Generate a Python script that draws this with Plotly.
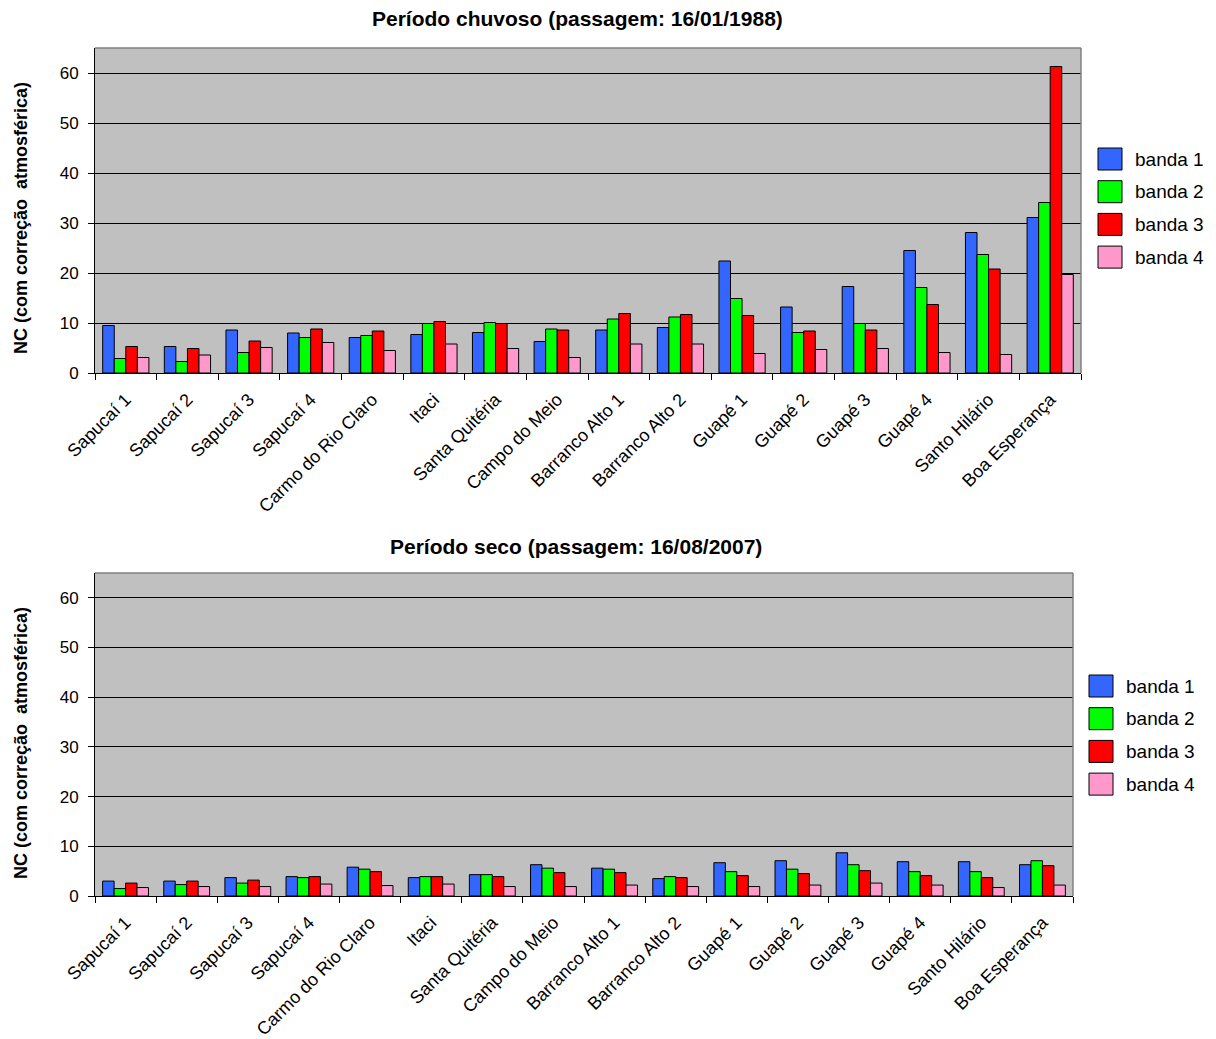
import plotly.graph_objects as go

# Sampling sites (x categories)
sites = ["Sapucaí 1", "Sapucaí 2", "Sapucaí 3", "Sapucaí 4", "Carmo do Rio Claro",
         "Itaci", "Santa Quitéria", "Campo do Meio", "Barranco Alto 1", "Barranco Alto 2",
         "Guapé 1", "Guapé 2", "Guapé 3", "Guapé 4", "Santo Hilário", "Boa Esperança"]

band_names = ["banda 1", "banda 2", "banda 3", "banda 4"]
band_colors = ["#3366FF", "#00FF00", "#FF0000", "#FF99CC"]

# Rainy season (16/01/1988)
wet_b1 = [9.5, 5.3, 8.6, 8.0, 7.1, 7.7, 8.1, 6.3, 8.6, 9.1, 22.4, 13.2, 17.3, 24.5, 28.1, 31.1]
wet_b2 = [2.9, 2.3, 4.1, 7.1, 7.5, 9.9, 10.1, 8.8, 10.8, 11.2, 14.9, 8.1, 9.9, 17.1, 23.7, 34.1]
wet_b3 = [5.3, 4.9, 6.4, 8.8, 8.4, 10.3, 9.9, 8.6, 11.9, 11.7, 11.5, 8.4, 8.6, 13.7, 20.8, 61.3]
wet_b4 = [3.1, 3.6, 5.1, 6.1, 4.5, 5.8, 4.9, 3.1, 5.8, 5.8, 3.9, 4.7, 4.9, 4.1, 3.7, 19.7]

# Dry season (16/08/2007)
dry_b1 = [3.0, 3.0, 3.7, 3.9, 5.8, 3.7, 4.3, 6.3, 5.6, 3.5, 6.7, 7.1, 8.7, 6.9, 6.9, 6.3]
dry_b2 = [1.5, 2.3, 2.6, 3.7, 5.4, 3.9, 4.3, 5.6, 5.4, 3.9, 4.9, 5.4, 6.3, 4.9, 4.9, 7.1]
dry_b3 = [2.6, 3.0, 3.2, 3.9, 4.9, 3.9, 3.9, 4.7, 4.7, 3.7, 4.1, 4.5, 5.1, 4.1, 3.7, 6.1]
dry_b4 = [1.7, 1.9, 1.9, 2.4, 2.1, 2.4, 1.9, 1.9, 2.2, 1.9, 1.9, 2.2, 2.6, 2.2, 1.7, 2.2]

y_ticks = [0, 10, 20, 30, 40, 50, 60]

W, H = 1216, 1039
FONT = "Liberation Sans, Arial, sans-serif"


def px_x(p):
    return p / W


def px_y(p):
    return 1 - p / H


fig = go.Figure()

panels = [
    ("x", "y", [wet_b1, wet_b2, wet_b3, wet_b4]),
    ("x2", "y2", [dry_b1, dry_b2, dry_b3, dry_b4]),
]
for xa, ya, series in panels:
    for name, color, vals in zip(band_names, band_colors, series):
        fig.add_trace(go.Bar(
            x=sites, y=vals, name=name, xaxis=xa, yaxis=ya,
            marker=dict(color=color, line=dict(color="black", width=1)),
            showlegend=False,
        ))

common_x = dict(
    type="category", showline=True, linecolor="black", linewidth=1,
    ticks="outside", tickson="boundaries", ticklen=6, tickcolor="black",
    tickangle=-45, tickfont=dict(family=FONT, size=18, color="black"),
    ticklabelstandoff=8,
    showgrid=False, mirror=False, automargin=False,
)
common_y = dict(
    range=[0, 65], tickvals=y_ticks, showline=True, linecolor="black", linewidth=1,
    ticks="outside", ticklen=6, tickcolor="black",
    tickfont=dict(family=FONT, size=17, color="black"),
    ticklabelstandoff=6,
    showgrid=True, gridcolor="black", gridwidth=1, zeroline=False, automargin=False,
)

fig.update_layout(
    width=W, height=H,
    margin=dict(l=0, r=0, t=0, b=0),
    paper_bgcolor="white", plot_bgcolor="#C0C0C0",
    barmode="group", bargap=0.25, bargroupgap=0.0,
    xaxis=dict(common_x, domain=[px_x(95), px_x(1081)], anchor="y"),
    yaxis=dict(common_y, domain=[px_y(373), px_y(48)], anchor="x"),
    xaxis2=dict(common_x, domain=[px_x(95), px_x(1073)], anchor="y2"),
    yaxis2=dict(common_y, domain=[px_y(896), px_y(573)], anchor="x2"),
    font=dict(family=FONT, color="black"),
)

shapes = []
annotations = []

# Plot-area frames (grey top/right edges)
for (l, t, r, b) in [(95, 48, 1081, 373), (95, 573, 1073, 896)]:
    shapes.append(dict(type="line", xref="paper", yref="paper",
                       x0=px_x(l), x1=px_x(r), y0=px_y(t), y1=px_y(t),
                       line=dict(color="#808080", width=1.5)))
    shapes.append(dict(type="line", xref="paper", yref="paper",
                       x0=px_x(r), x1=px_x(r), y0=px_y(t), y1=px_y(b),
                       line=dict(color="#808080", width=1.5)))

# Panel titles
titles = [("Período chuvoso (passagem: 16/01/1988)", 577, 18),
          ("Período seco (passagem: 16/08/2007)", 576, 546)]
for text, cx, cy in titles:
    annotations.append(dict(text="<b>%s</b>" % text, xref="paper", yref="paper",
                            x=px_x(cx), y=px_y(cy), xanchor="center", yanchor="middle",
                            showarrow=False, font=dict(family=FONT, size=21, color="black")))

# Y-axis titles
for cy in (218, 743):
    annotations.append(dict(text="<b>NC (com correção  atmosférica)</b>", xref="paper", yref="paper",
                            x=px_x(21), y=px_y(cy), xanchor="center", yanchor="middle",
                            textangle=-90, showarrow=False,
                            font=dict(family=FONT, size=18, color="black")))

# Legends (one per panel)
for lx, top in [(1098, 148), (1089, 675)]:
    for i, (name, color) in enumerate(zip(band_names, band_colors)):
        y0 = top + i * 32.7
        shapes.append(dict(type="rect", xref="paper", yref="paper",
                           x0=px_x(lx), x1=px_x(lx + 24), y0=px_y(y0), y1=px_y(y0 + 22),
                           fillcolor=color, line=dict(color="black", width=1)))
        annotations.append(dict(text=name, xref="paper", yref="paper",
                                x=px_x(lx + 35), y=px_y(y0 + 11), xanchor="left", yanchor="middle",
                                showarrow=False, font=dict(family=FONT, size=19, color="black")))

fig.update_layout(shapes=shapes, annotations=annotations)

fig.write_html("out.html")
